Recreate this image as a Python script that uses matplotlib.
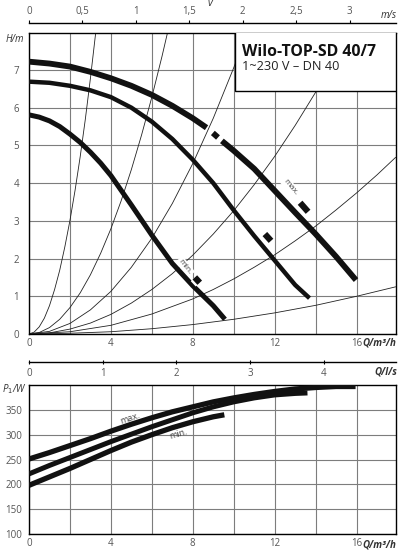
import matplotlib
matplotlib.use("Agg")
import matplotlib.pyplot as plt
import matplotlib.patheffects as pe
from matplotlib.patches import Rectangle

plt.rcParams['font.family'] = ['Open Sans', 'DejaVu Sans']

# pump curves H(Q)
max_q = [0, 1, 2, 3, 4, 5, 6, 7, 8, 8.67, 8.98, 9.23, 9.42, 10, 11, 12, 13, 14, 15, 15.97]
max_h = [7.22, 7.17, 7.09, 6.95, 6.78, 6.58, 6.34, 6.05, 5.72, 5.47, 5.33, 5.21, 5.12, 4.86,
         4.38, 3.80, 3.22, 2.65, 2.05, 1.43]
mid_q = [0, 1, 2, 3, 4, 5, 6, 7, 8, 9, 10, 11, 12, 13, 13.7]
mid_h = [6.69, 6.66, 6.58, 6.46, 6.28, 6.00, 5.63, 5.17, 4.62, 4.00, 3.28, 2.60, 1.95, 1.30, 0.95]
min_q = [0, 0.5, 1, 1.5, 2, 2.5, 3, 3.5, 4, 5, 6, 7, 8, 9, 9.57]
min_h = [5.81, 5.75, 5.65, 5.50, 5.30, 5.08, 4.82, 4.53, 4.20, 3.42, 2.62, 1.87, 1.28, 0.75, 0.39]

# thin system curves through the origin
sys_q = [
    [0, 0.25, 0.5, 0.75, 1, 1.25, 1.5, 1.75, 2, 2.25, 2.5, 2.75, 3, 3.26],
    [0, 0.5, 1, 1.5, 2, 2.5, 3, 3.5, 4, 4.5, 5, 5.5, 6, 6.5, 6.77],
    [0, 1, 2, 3, 4, 5, 6, 7, 8, 9, 10, 10.65],
    [0, 1, 2, 3, 4, 5, 6, 7, 8, 9, 10, 11, 12, 13, 14, 15, 15.6],
    [0, 2, 4, 6, 8, 9, 10, 11, 12, 13, 14, 15, 16, 17, 17.9],
    [0, 2, 4, 6, 8, 10, 12, 14, 16, 17.9],
]
sys_h = [
    [0, 0.05, 0.19, 0.42, 0.75, 1.18, 1.69, 2.31, 3.01, 3.81, 4.70, 5.69, 6.78, 8.0],
    [0, 0.04, 0.17, 0.39, 0.70, 1.09, 1.57, 2.14, 2.79, 3.53, 4.36, 5.28, 6.28, 7.37, 8.0],
    [0, 0.07, 0.28, 0.64, 1.13, 1.77, 2.54, 3.46, 4.52, 5.72, 7.06, 8.0],
    [0, 0.03, 0.13, 0.29, 0.52, 0.82, 1.18, 1.60, 2.09, 2.65, 3.27, 3.96, 4.71, 5.53, 6.41, 7.36, 7.96],
    [0, 0.06, 0.23, 0.53, 0.93, 1.18, 1.46, 1.77, 2.10, 2.47, 2.86, 3.29, 3.74, 4.22, 4.68],
    [0, 0.02, 0.06, 0.14, 0.25, 0.39, 0.56, 0.76, 1.0, 1.25],
]

# small black setting marks next to the curves
mark_q = [(8.10, 8.34), (11.52, 11.82), (13.24, 13.63)]
mark_h = [(1.50, 1.36), (2.65, 2.47), (3.48, 3.24)]

# power curves P1(Q)
pmax_q = [0, 1, 2, 3, 4, 5, 6, 7, 8, 9, 10, 11, 12, 13, 14, 15, 15.95]
pmax = [251, 264, 278, 292, 307, 321, 334, 346, 356, 366, 374, 381, 387, 392, 395, 397, 397]
pmid_q = [0, 1, 2, 3, 4, 5, 6, 7, 8, 9, 10, 11, 12, 13, 13.6]
pmid = [221, 238, 254, 270, 286, 301, 316, 330, 344, 356, 366, 374, 380, 383, 384]
pmin_q = [0, 1, 2, 3, 4, 5, 6, 7, 8, 9, 9.54]
pmin = [198, 215, 232, 250, 268, 285, 300, 314, 326, 336, 340]

q_ticks = [0, 2, 4, 6, 8, 10, 12, 14, 16]
q_labels = ['0', '', '4', '', '8', '', '12', '', '16']
h_ticks = [0, 1, 2, 3, 4, 5, 6, 7]
p_ticks = [100, 150, 200, 250, 300, 350]
v_ticks = [0, 0.5, 1, 1.5, 2, 2.5, 3]
v_labels = ['0', '0,5', '1', '1,5', '2', '2,5', '3']
ls_ticks = [0, 1, 2, 3, 4]
QMAX = 17.9
Q_PER_V = 5.22   # m3/h per m/s (DN 40)
Q_PER_LS = 3.6   # m3/h per l/s

grey = '#555555'
gridc = '#7d7d7d'
W, H = 399, 550
left, width = 29 / W, 366.5 / W

fig = plt.figure(figsize=(W / 100, H / 100), dpi=100)
ax1 = fig.add_axes([left, 1 - 334 / H, width, 301 / H])
ax2 = fig.add_axes([left, 1 - 534 / H, width, 149 / H])

for ax in (ax1, ax2):
    ax.set_xlim(0, QMAX)
    ax.set_xticks(q_ticks)
    ax.set_xticklabels(q_labels)
    ax.grid(True, color=gridc, lw=0.8)
    ax.set_axisbelow(True)
    ax.tick_params(length=0, labelsize=7, labelcolor=grey)
    ax.tick_params(axis='y', pad=7)
    ax.tick_params(axis='x', pad=3)
    for s in ax.spines.values():
        s.set_linewidth(1.0)
    ax.text(16.3, -9 / 301 if ax is ax1 else -11 / 149, 'Q/m³/h', transform=ax.get_xaxis_transform(),
            ha='left', va='center', fontsize=7, style='italic', fontweight='bold', color='#333333')

# --- head chart ---
ax1.set_ylim(0, 7.98)
ax1.set_yticks(h_ticks)
ax1.text(-0.04, 0.977, 'H/m', transform=ax1.transAxes, ha='center', va='center',
         fontsize=7, style='italic', color='#333333')

for qs, hs in zip(sys_q, sys_h):
    ax1.plot(qs, hs, color='#222222', lw=0.6, zorder=2)

seg = [(0, 10), (10, 12), (12, len(max_q))]
for a, b in seg:
    ax1.plot(max_q[a:b], max_h[a:b], color='#111111', lw=4.2, solid_capstyle='butt', zorder=4)
ax1.plot(mid_q, mid_h, color='#111111', lw=3.2, solid_capstyle='butt', zorder=4)
ax1.plot(min_q, min_h, color='#111111', lw=3.6, solid_capstyle='butt', zorder=4)

for qs, hs in zip(mark_q, mark_h):
    ax1.plot(qs, hs, color='#111111', lw=4.5, solid_capstyle='butt', zorder=4,
             path_effects=[pe.Stroke(linewidth=8, foreground='white'), pe.Normal()])

ax1.text(12.75, 3.9, 'max.', rotation=-50, fontsize=6, color='#444444', ha='center', va='center',
         zorder=3, bbox=dict(facecolor='white', edgecolor='none', pad=1))
ax1.text(7.62, 1.78, 'min.', rotation=-52, fontsize=6, color='#444444', ha='center', va='center',
         zorder=3, bbox=dict(facecolor='white', edgecolor='none', pad=1))

ax1.add_patch(Rectangle((10.04, 6.45), QMAX - 10.04, 8.5 - 6.45, facecolor='white',
                        edgecolor='black', lw=1.0, zorder=5, clip_on=True))
ax1.text(10.4, 7.38, 'Wilo-TOP-SD 40/7', fontsize=11.4, fontweight='bold', color='#111111',
         ha='left', va='baseline', zorder=6)
ax1.text(10.4, 6.99, '1~230 V – DN 40', fontsize=9.2, color='#222222',
         ha='left', va='baseline', zorder=6)

# velocity scale above
axv = fig.add_axes([left, 1 - 23 / H, width, 1e-6])
axv.set_xlim(0, QMAX / Q_PER_V)
axv.set_yticks([])
for k in ('left', 'right', 'bottom'):
    axv.spines[k].set_visible(False)
axv.spines['top'].set_linewidth(1.0)
axv.xaxis.set_ticks_position('top')
axv.set_xticks(v_ticks)
axv.set_xticklabels(v_labels)
axv.tick_params(axis='x', length=2.5, width=0.8, pad=1.5, labelsize=7, labelcolor=grey)
fig.text(210 / W, 1 - 4 / H, 'v', ha='center', va='center', fontsize=7.5, style='italic', color='#333333')
fig.text(397 / W, 1 - 15 / H, 'm/s', ha='right', va='center', fontsize=7, style='italic', color='#333333')

# l/s scale between the charts
axl = fig.add_axes([left, 1 - 362 / H, width, 1e-6])
axl.set_xlim(0, QMAX / Q_PER_LS)
axl.set_yticks([])
for k in ('left', 'right', 'top'):
    axl.spines[k].set_visible(False)
axl.spines['bottom'].set_linewidth(1.0)
axl.set_xticks(ls_ticks)
axl.tick_params(axis='x', length=3, width=0.8, direction='inout', pad=3, labelsize=7, labelcolor=grey)
fig.text(397 / W, 1 - 372 / H, 'Q/l/s', ha='right', va='center', fontsize=7, style='italic',
         fontweight='bold', color='#333333')

# --- power chart ---
ax2.set_ylim(100, 400)
ax2.set_yticks(p_ticks)
ax2.tick_params(axis='y', pad=5)
ax2.text(-0.04, 1 - 4 / 149, 'P$_1$/W', transform=ax2.transAxes, ha='center', va='center',
         fontsize=7, style='italic', color='#333333')
ax2.plot(pmax_q, pmax, color='#111111', lw=3.8, solid_capstyle='butt', zorder=4)
ax2.plot(pmid_q, pmid, color='#111111', lw=3.6, solid_capstyle='butt', zorder=4)
ax2.plot(pmin_q, pmin, color='#111111', lw=3.8, solid_capstyle='butt', zorder=4)
ax2.text(4.93, 332, 'max.', rotation=19, fontsize=6.5, color='#444444', ha='center', va='center')
ax2.text(7.3, 301, 'min.', rotation=16, fontsize=6.5, color='#444444', ha='center', va='center')

fig.savefig('out.png', dpi=100)
